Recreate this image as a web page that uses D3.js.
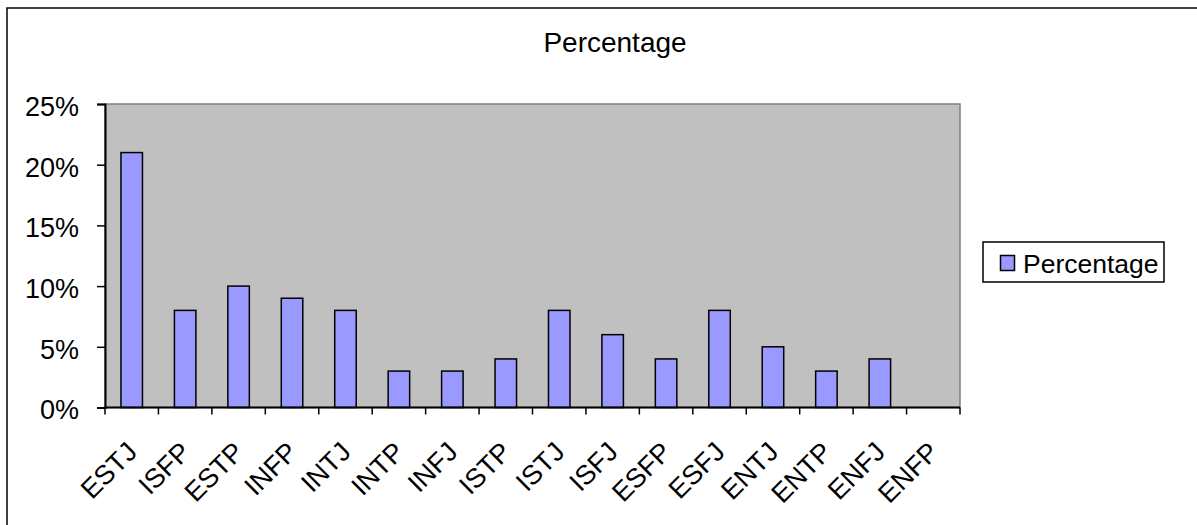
<!DOCTYPE html>
<html>
<head>
<meta charset="utf-8">
<script src="https://cdn.jsdelivr.net/npm/d3@7"></script>
<style>
html,body{margin:0;padding:0;background:#fff;}
svg{display:block;font-family:"Liberation Sans",Arial,sans-serif;}
</style>
</head>
<body>
<svg id="chart" width="1197" height="525"></svg>
<script>
const categories = ["ESTJ","ISFP","ESTP","INFP","INTJ","INTP","INFJ","ISTP","ISTJ","ISFJ","ESFP","ESFJ","ENTJ","ENTP","ENFJ","ENFP"];
const percentages = [21, 8, 10, 9, 8, 3, 3, 4, 8, 6, 4, 8, 5, 3, 4, 0];
const yTicks = [0, 5, 10, 15, 20, 25];
const seriesName = "Percentage";
const chartTitle = "Percentage";

const svg = d3.select("#chart");
const plot = {left: 105, right: 960, top: 104, bottom: 407.5};

// outer chart border (extends past the crop on right/bottom)
svg.append("rect").attr("x", 7).attr("y", 8).attr("width", 1300).attr("height", 600)
  .attr("fill", "#fff").attr("stroke", "#000").attr("stroke-width", 1.5);

const x = d3.scaleBand().domain(categories).range([plot.left, plot.right]).paddingInner(0.6).paddingOuter(0.3);
const xb = d3.scaleBand().domain(categories).range([plot.left, plot.right]);
const y = d3.scaleLinear().domain([0, 25]).range([plot.bottom, plot.top]);

// plot background
svg.append("rect").attr("x", plot.left).attr("y", plot.top)
  .attr("width", plot.right - plot.left).attr("height", plot.bottom - plot.top)
  .attr("fill", "#C0C0C0").attr("stroke", "#808080").attr("stroke-width", 1.5);

// bars
svg.append("g").selectAll("rect").data(categories).join("rect")
  .attr("x", d => xb(d) + (xb.bandwidth() - 21.5) / 2)
  .attr("width", 21.5)
  .attr("y", (d, i) => y(percentages[i]))
  .attr("height", (d, i) => plot.bottom - y(percentages[i]))
  .attr("fill", "#9999FF").attr("stroke", "#000").attr("stroke-width", 1.5)
  .style("display", (d, i) => percentages[i] > 0 ? null : "none");

// y axis
const yAxis = svg.append("g").attr("transform", `translate(${plot.left},0)`)
  .call(d3.axisLeft(y).tickValues(yTicks).tickFormat(d => d + "%").tickSize(8).tickPadding(18));
yAxis.select(".domain").attr("stroke", "#000").attr("stroke-width", 2);
yAxis.selectAll(".tick line").attr("stroke", "#000").attr("stroke-width", 1.5);
yAxis.selectAll(".tick text").attr("font-size", 27).attr("fill", "#000")
  .attr("font-family", "Liberation Sans, Arial, sans-serif").attr("dy", "0.42em");

// x axis line and ticks at band boundaries
const bounds = categories.map(d => xb(d)).concat([plot.right]);
svg.append("line").attr("x1", plot.left).attr("x2", plot.right)
  .attr("y1", plot.bottom).attr("y2", plot.bottom).attr("stroke", "#000").attr("stroke-width", 2);
svg.append("g").selectAll("line").data(bounds).join("line")
  .attr("x1", d => d).attr("x2", d => d)
  .attr("y1", plot.bottom).attr("y2", plot.bottom + 7)
  .attr("stroke", "#000").attr("stroke-width", 1.5);

// x labels rotated
svg.append("g").selectAll("text").data(categories).join("text")
  .attr("transform", d => `translate(${xb(d) + xb.bandwidth() / 2 + 7},${plot.bottom + 46}) rotate(-45)`)
  .attr("text-anchor", "end").attr("font-size", 27).attr("fill", "#000")
  .text(d => d);

// title
svg.append("text").attr("x", 615).attr("y", 52).attr("text-anchor", "middle")
  .attr("font-size", 28).attr("fill", "#000").text(chartTitle);

// legend
const lg = svg.append("g");
lg.append("rect").attr("x", 983).attr("y", 242).attr("width", 181).attr("height", 40)
  .attr("fill", "#fff").attr("stroke", "#000").attr("stroke-width", 1.5);
lg.append("rect").attr("x", 1000.5).attr("y", 255.5).attr("width", 14).attr("height", 15)
  .attr("fill", "#9999FF").attr("stroke", "#000").attr("stroke-width", 1.5);
lg.append("text").attr("x", 1023).attr("y", 272.5).attr("font-size", 26.5).attr("fill", "#000")
  .text(seriesName);
</script>
</body>
</html>
